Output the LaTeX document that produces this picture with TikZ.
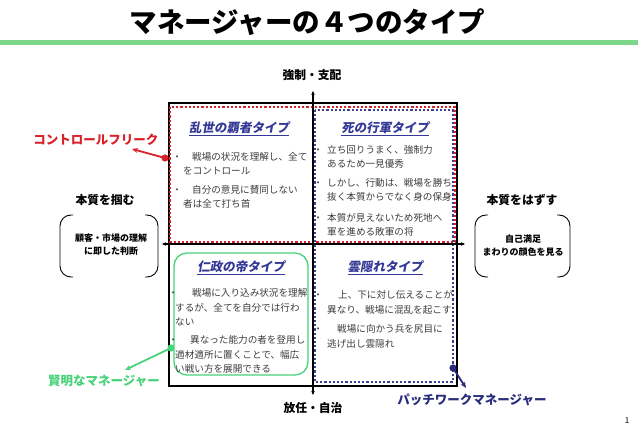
\documentclass[tikz,border=0pt]{standalone}
\usepackage{fontspec}
\setmainfont{Noto Sans CJK JP}
\newfontfamily\qtfont[FakeSlant=0.18]{Noto Sans CJK JP}
\usetikzlibrary{arrows.meta}
\definecolor{titlegreen}{RGB}{125,213,138}
\definecolor{fredc}{RGB}{218,32,42}
\definecolor{qblue}{RGB}{52,56,150}
\definecolor{navyc}{RGB}{40,44,122}
\definecolor{lgreen}{RGB}{72,210,122}
\definecolor{bodyc}{RGB}{60,60,60}
\definecolor{dotblue}{RGB}{62,64,150}
\newcommand\qbul[1]{\makebox[#1][l]{・}}
\tikzset{
  bodyline/.style={anchor=west,inner sep=0pt,text=bodyc,font=\fontsize{9.6}{12}\selectfont},
  qtitle/.style={inner sep=0pt,text=qblue,font=\qtfont\bfseries\fontsize{12.5}{14}\selectfont},
  axlabel/.style={inner sep=0pt,font=\bfseries\fontsize{11.8}{14}\selectfont},
  brtext/.style={inner sep=0pt,font=\bfseries\fontsize{9}{11}\selectfont},
  calllabel/.style={inner sep=0pt,font=\bfseries\fontsize{12.5}{14}\selectfont},
  axisline/.style={line width=1.1pt,{Stealth[length=4pt,width=3.5pt]}-{Stealth[length=4pt,width=3.5pt]}},
  bracketline/.style={line width=0.9pt,rounded corners=11pt},
  dotbox/.style={line width=2.4pt,dash pattern=on 2.2pt off 2pt},
}
\begin{document}
\begin{tikzpicture}[x=1pt,y=-1pt]
\useasboundingbox (0,0) rectangle (638,435);
% title
\node[inner sep=0pt,font=\bfseries\fontsize{27.5}{30}\selectfont] (title) at (307.5,22) {マネージャーの４つのタイプ};
\fill[titlegreen] (0,40) rectangle (638,45);
% main square
\draw[line width=1.4pt] (169,103) rectangle (457,386);
% dotted regions
\draw[fredc,dotbox] (170,107) rectangle (455,242);
\draw[dotblue,dotbox] (315,110) rectangle (453,382);
\draw[lgreen,line width=1.3pt,rounded corners=13pt] (174,253) rectangle (308,375);
% axes
\coordinate (vtop) at (313,91);
\coordinate (vbot) at (313,395);
\coordinate (hleft) at (162,244);
\coordinate (hright) at (465,244);
\draw[axisline] (vbot) -- (vtop);
\draw[axisline] (hleft) -- (hright);
% axis labels
\node[axlabel] (ltop) at (312,75) {強制・支配};
\node[axlabel] (lbot) at (313,408) {放任・自治};
\node[axlabel] (lleft) at (105,200) {本質を掴む};
\node[axlabel] (lright) at (522,200) {本質をはずす};
% brackets
\draw[bracketline] (73,215) -- (60,215) -- (60,277) -- (73,277);
\draw[bracketline] (145,215) -- (158,215) -- (158,277) -- (145,277);
\node[brtext,align=center] (bl) at (111,245) {顧客・市場の理解\\[2pt]に即した判断};
\draw[bracketline] (488,215) -- (475,215) -- (475,277) -- (488,277);
\draw[bracketline] (557,215) -- (570,215) -- (570,277) -- (557,277);
\node[brtext,align=center] (br) at (523,246) {自己満足\\[2pt]まわりの顔色を見る};
% quadrant titles
\node[qtitle] (q1) at (239,129) {\underline{乱世の覇者タイプ}};
\node[qtitle] (q2) at (385,129) {\underline{死の行軍タイプ}};
\node[qtitle] (q3) at (241,268) {\underline{仁政の帝タイプ}};
\node[qtitle] (q4) at (385,268) {\underline{雲隠れタイプ}};
% top-left body
\node[bodyline] (a1) at (172.2,157) {\qbul{19.8pt}戦場の状況を理解し、全て};
\node[bodyline] (a2) at (183,171) {をコントロール};
\node[bodyline] (a3) at (172.2,190) {\qbul{19.8pt}自分の意見に賛同しない};
\node[bodyline] (a4) at (183,204) {者は全て打ち首};
% top-right body
\node[bodyline] (b1) at (313.2,150) {\qbul{13.8pt}立ち回りうまく、強制力};
\node[bodyline] (b2) at (327,164) {あるため一見優秀};
\node[bodyline] (b3) at (313.2,183) {\qbul{13.8pt}しかし、行動は、戦場を勝ち};
\node[bodyline] (b4) at (327,197) {抜く本質からでなく身の保身};
\node[bodyline] (b5) at (313.2,218) {\qbul{13.8pt}本質が見えないため死地へ};
\node[bodyline] (b6) at (327,232) {軍を進める敗軍の将};
% bottom-left body
\node[bodyline] (c1) at (168.2,293) {\qbul{23.8pt}戦場に入り込み状況を理解};
\node[bodyline] (c2) at (175,308) {するが、全てを自分では行わ};
\node[bodyline] (c3) at (175,322) {ない};
\node[bodyline] (c4) at (168.2,340) {\qbul{21.8pt}異なった能力の者を登用し};
\node[bodyline] (c5) at (175,355) {適材適所に置くことで、幅広};
\node[bodyline] (c6) at (175,369) {い戦い方を展開できる};
% bottom-right body
\node[bodyline] (d1) at (313.2,295) {\qbul{24.8pt}上、下に対し伝えることが};
\node[bodyline] (d2) at (327,310) {異なり、戦場に混乱を起こす};
\node[bodyline] (d3) at (313.2,329) {\qbul{23.8pt}戦場に向かう兵を尻目に};
\node[bodyline] (d4) at (327,344) {逃げ出し雲隠れ};
% callouts
\node[calllabel,text=fredc] (cf) at (96,140) {コントロールフリーク};
\coordinate (rdot) at (165,158);
\coordinate (rtip) at (132,149);
\fill[fredc] (rdot) circle (3.6pt);
\draw[fredc,line width=1.8pt,-{Stealth[length=6pt,width=5pt]}] (rdot) -- (rtip);
\node[calllabel,text=lgreen] (km) at (104,381) {賢明なマネージャー};
\coordinate (gdot) at (171,348);
\coordinate (gtip) at (125,370);
\fill[lgreen] (gdot) circle (3.6pt);
\draw[lgreen,line width=1.8pt,-{Stealth[length=6pt,width=5pt]}] (gdot) -- (gtip);
\node[calllabel,text=navyc] (pm) at (472,400) {パッチワークマネージャー};
\coordinate (ndot) at (453,368);
\coordinate (ntip) at (466,388);
\fill[navyc] (ndot) circle (3.6pt);
\draw[navyc,line width=1.8pt,-{Stealth[length=6pt,width=5pt]}] (ndot) -- (ntip);
% page number
\node[inner sep=0pt,font=\fontsize{8}{9}\selectfont] (pg) at (627,421) {1};
\end{tikzpicture}
\end{document}
